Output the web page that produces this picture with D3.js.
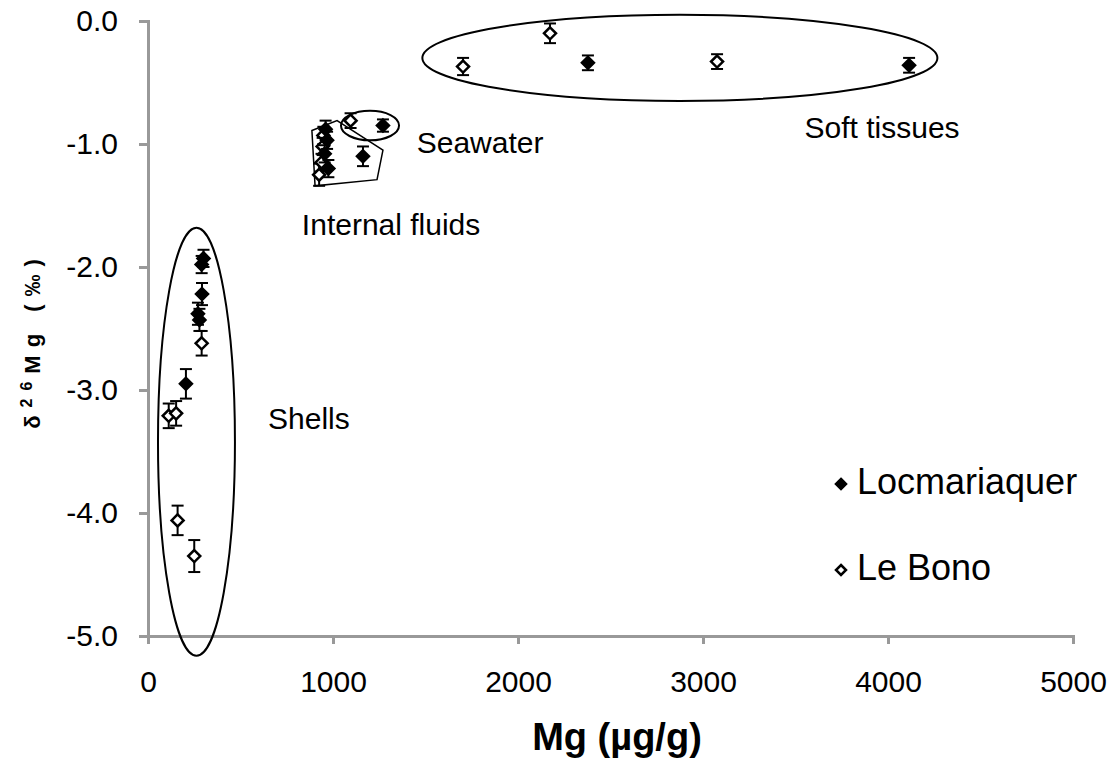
<!DOCTYPE html>
<html>
<head>
<meta charset="utf-8">
<script src="https://cdn.jsdelivr.net/npm/d3@7"></script>
<style>
  body { margin: 0; background: #fff; }
  text { font-family: "Liberation Sans", Arial, sans-serif; fill: #000; }
</style>
</head>
<body>
<svg id="chart" width="1117" height="760"></svg>
<script>
// Mg concentration (µg/g) and δ26Mg (‰) with 2SD error bars
const locX   = [2378, 4114, 960, 968, 955, 975, 1162, 1270, 300, 290, 292, 270, 278, 205];
const locY   = [-0.34, -0.36, -0.88, -0.97, -1.08, -1.20, -1.10, -0.85, -1.93, -1.98, -2.22, -2.38, -2.43, -2.95];
const locErr = [0.06, 0.06, 0.07, 0.07, 0.07, 0.07, 0.08, 0.05, 0.07, 0.07, 0.09, 0.09, 0.09, 0.12];

const bonoX   = [1703, 2173, 3076, 1095, 948, 944, 938, 925, 290, 112, 152, 160, 250];
const bonoY   = [-0.37, -0.10, -0.33, -0.81, -0.93, -1.02, -1.15, -1.25, -2.62, -3.21, -3.19, -4.06, -4.35];
const bonoErr = [0.07, 0.08, 0.06, 0.06, 0.07, 0.07, 0.07, 0.09, 0.10, 0.10, 0.10, 0.12, 0.13];

const xTicks = [0, 1000, 2000, 3000, 4000, 5000];
const yTicks = [0, -1, -2, -3, -4, -5];

// Group outlines (centre x, centre y, radius x, radius y in data units)
const groupNames   = ["Soft tissues", "Seawater", "Shells"];
const groupCx      = [2875, 1200, 262];
const groupCy      = [-0.30, -0.85, -3.42];
const groupRx      = [1392, 157, 208];
const groupRy      = [0.35, 0.12, 1.74];
const fluidHullX   = [886, 1022, 1270, 1238, 903];
const fluidHullY   = [-0.89, -0.81, -1.05, -1.29, -1.34];

// Annotation labels anchored in data units
const labelText = ["Soft tissues", "Seawater", "Internal fluids", "Shells"];
const labelX    = [3968, 1795, 1314, 870];
const labelY    = [-0.89, -1.01, -1.675, -3.25];

const seriesNames = ["Locmariaquer", "Le Bono"];

const svg = d3.select("#chart");
const x = d3.scaleLinear().domain([0, 5000]).range([148, 1073]);
const y = d3.scaleLinear().domain([-5, 0]).range([636, 21]);

// Axes
const axisColor = "#999";
const gx = svg.append("g").attr("transform", `translate(0,${y(-5)})`)
  .call(d3.axisBottom(x).tickValues(xTicks).tickSize(8).tickPadding(27).tickFormat(d3.format("d")));
const gy = svg.append("g").attr("transform", `translate(${x(0)},0)`)
  .call(d3.axisLeft(y).tickValues(yTicks).tickSize(9).tickPadding(21).tickFormat(d => d3.format(".1f")(d).replace("−", "-")));
[gx, gy].forEach(g => {
  g.select(".domain").attr("stroke", axisColor).attr("stroke-width", 3);
  g.selectAll(".tick line").attr("stroke", axisColor).attr("stroke-width", 3);
  g.selectAll(".tick text").attr("font-size", 30).attr("font-family", "Liberation Sans, Arial, sans-serif").attr("fill", "#000");
});

// Axis titles
svg.append("text").attr("x", 617).attr("y", 750).attr("text-anchor", "middle")
  .attr("font-size", 38).attr("font-weight", "bold").text("Mg (µg/g)");
const yt = svg.append("text").attr("transform", "translate(40,340) rotate(-90)")
  .attr("text-anchor", "middle").attr("font-size", 22).attr("font-weight", "bold")
  .attr("letter-spacing", 8);
yt.append("tspan").text("δ");
yt.append("tspan").attr("baseline-shift", "super").attr("font-size", 16).text("26");
yt.append("tspan").text("Mg (‰)");

// Group outlines
const ell = groupNames.map((n, i) => ({cx: groupCx[i], cy: groupCy[i], rx: groupRx[i], ry: groupRy[i]}));
svg.append("g").selectAll("ellipse").data(ell).join("ellipse")
  .attr("cx", d => x(d.cx)).attr("cy", d => y(d.cy))
  .attr("rx", d => x(d.rx) - x(0)).attr("ry", d => y(-d.ry) - y(0))
  .attr("fill", "none").attr("stroke", "#000").attr("stroke-width", 2);
svg.append("path")
  .attr("d", d3.line().x(d => x(d[0])).y(d => y(d[1])).curve(d3.curveLinearClosed)(fluidHullX.map((v, i) => [v, fluidHullY[i]])))
  .attr("fill", "none").attr("stroke", "#000").attr("stroke-width", 1.5);

// Points with error bars
function drawSeries(xs, ys, es, filled) {
  const pts = xs.map((v, i) => ({x: v, y: ys[i], e: es[i]}));
  const g = svg.append("g");
  const eb = g.selectAll("g.eb").data(pts).join("g").attr("stroke", "#000").attr("stroke-width", 2);
  eb.append("line").attr("x1", d => x(d.x)).attr("x2", d => x(d.x)).attr("y1", d => y(d.y + d.e)).attr("y2", d => y(d.y - d.e));
  eb.append("line").attr("x1", d => x(d.x) - 6).attr("x2", d => x(d.x) + 6).attr("y1", d => y(d.y + d.e)).attr("y2", d => y(d.y + d.e));
  eb.append("line").attr("x1", d => x(d.x) - 6).attr("x2", d => x(d.x) + 6).attr("y1", d => y(d.y - d.e)).attr("y2", d => y(d.y - d.e));
  g.selectAll("path.pt").data(pts).join("path")
    .attr("d", "M0,-6L6,0L0,6L-6,0Z")
    .attr("transform", d => `translate(${x(d.x)},${y(d.y)})`)
    .attr("fill", filled ? "#000" : "#fff").attr("stroke", "#000").attr("stroke-width", 2.5);
}
drawSeries(bonoX, bonoY, bonoErr, false);
drawSeries(locX, locY, locErr, true);

// Annotation labels
svg.append("g").selectAll("text").data(labelText).join("text")
  .attr("x", (d, i) => x(labelX[i])).attr("y", (d, i) => y(labelY[i]))
  .attr("text-anchor", "middle").attr("dominant-baseline", "middle").attr("font-size", 30).text(d => d);

// Legend
const lg = svg.append("g");
seriesNames.forEach((n, i) => {
  const ly = 484 + i * 86;
  lg.append("path").attr("d", "M0,-5L5,0L0,5L-5,0Z").attr("transform", `translate(841,${ly})`)
    .attr("fill", i === 0 ? "#000" : "#fff").attr("stroke", "#000").attr("stroke-width", 2.5);
  lg.append("text").attr("x", 857).attr("y", ly).attr("dominant-baseline", "middle").attr("font-size", 36).text(n);
});
</script>
</body>
</html>
